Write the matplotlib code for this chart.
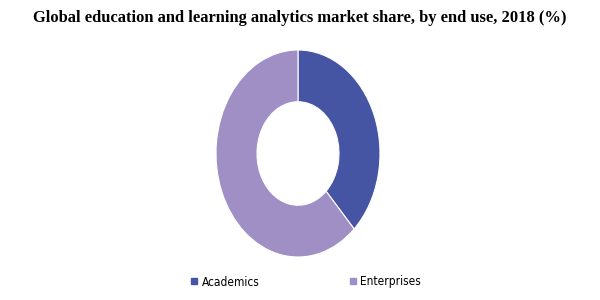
import matplotlib
matplotlib.use("Agg")
import matplotlib.pyplot as plt
from matplotlib.lines import Line2D

title = "Global education and learning analytics market share, by end use, 2018 (%)"
categories = ["Academics", "Enterprises"]
shares = [38, 62]
colors = ["#4654a4", "#a08fc5"]

fig = plt.figure(figsize=(6, 3), dpi=100)
fig.patch.set_facecolor("white")
ax = fig.add_axes([216/600, 43/300, 164/600, 207/300])
wedges, _ = ax.pie(shares, colors=colors, startangle=90, counterclock=False,
                   radius=1.0, wedgeprops=dict(width=0.5, edgecolor="white", linewidth=0.8))
ax.set_aspect("auto")
ax.set_xlim(-1, 1)
ax.set_ylim(-1, 1)
ax.axis("off")

fig.text(0.5, 1 - 18/300, title, ha="center", va="center",
         fontsize=11.9, fontweight="bold", family=["Liberation Serif", "DejaVu Serif"])

handles = [Line2D([], [], marker="s", linestyle="none", markersize=4,
                  markerfacecolor=c, markeredgecolor=c) for c in colors]
leg = fig.legend(handles, categories, loc="center", bbox_to_anchor=(306/600, 1 - 282/300),
                 ncol=2, frameon=False, handlelength=0.6, handletextpad=0.3,
                 columnspacing=7.55,
                 prop=dict(family=["DejaVu Sans"], stretch="condensed", size=8.6))

fig.savefig("out.png", dpi=100)
